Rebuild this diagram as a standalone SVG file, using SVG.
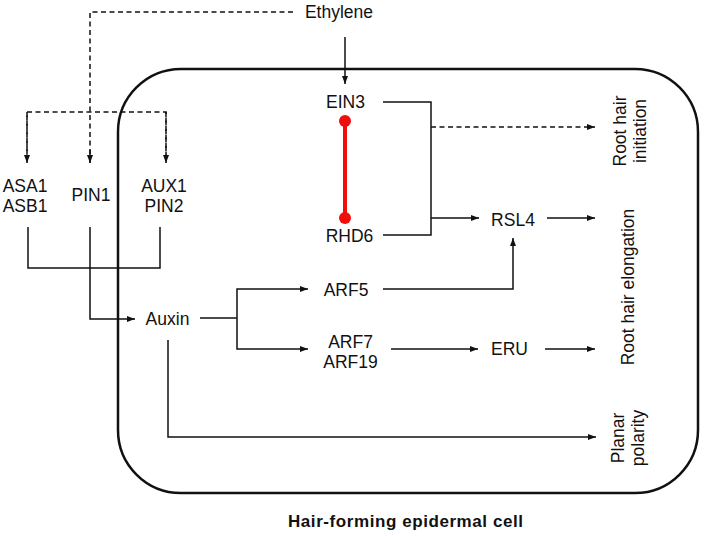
<svg xmlns="http://www.w3.org/2000/svg" width="706" height="536" viewBox="0 0 706 536">
<defs>
<marker id="ah" viewBox="0 0 8 6" refX="8" refY="3" markerWidth="8" markerHeight="6" markerUnits="userSpaceOnUse" orient="auto">
<path d="M0,0 L8,3 L0,6 Z" fill="#111"/>
</marker>
<style>
text{font-family:"Liberation Sans",Arial,sans-serif;font-size:17.5px;fill:#111;text-anchor:middle}
.c{fill:none;stroke:#111;stroke-width:1.5}
.d{stroke-dasharray:5 3.5}
.a{marker-end:url(#ah)}
.t{font-weight:bold;font-size:17px}
</style>
</defs>
<rect id="cell" x="118" y="69" width="580" height="424" rx="63" ry="63" fill="none" stroke="#111" stroke-width="2.5"/>
<g id="connectors">
<path class="c d" d="M293,12 H90 V163"/>
<path class="c d" d="M27,163 V112 H166 V163"/>
<path class="c d a" d="M27,112 V163"/>
<path class="c d a" d="M166,112 V163"/>
<path class="c d a" d="M90,150 V163"/>
<path class="c a" d="M345,37 V84"/>
<path class="c" d="M383,102 H431 V235 H383"/>
<path class="c d a" d="M431,127 H595"/>
<path class="c a" d="M431,218 H479"/>
<path class="c a" d="M547,218 H595"/>
<path class="c a" d="M383,289 H513 V238"/>
<path class="c a" d="M391,349 H478"/>
<path class="c a" d="M545,349 H595"/>
<path class="c a" d="M90,227 V319 H135"/>
<path class="c" d="M28,227 V268 H160 V227"/>
<path class="c" d="M200,318 H237"/>
<path class="c a" d="M237,318 V289 H308"/>
<path class="c a" d="M237,318 V349 H308"/>
<path class="c a" d="M168,340 V437 H596"/>
<g id="ein3-rhd6">
<line x1="345" y1="121" x2="345" y2="218" stroke="#f20d0d" stroke-width="4"/>
<circle cx="345" cy="121" r="6" fill="#f20d0d"/>
<circle cx="345" cy="218" r="6" fill="#f20d0d"/>
</g>
</g>
<g id="ethylene"><text x="339" y="18">Ethylene</text></g>
<g id="asa1"><text x="25" y="192">ASA1</text><text x="25" y="212">ASB1</text></g>
<g id="pin1"><text x="91" y="201">PIN1</text></g>
<g id="aux1"><text x="164" y="192">AUX1</text><text x="164" y="212">PIN2</text></g>
<g id="ein3"><text x="345.5" y="108">EIN3</text></g>
<g id="rhd6"><text x="349.5" y="242">RHD6</text></g>
<g id="rsl4"><text x="513" y="226">RSL4</text></g>
<g id="auxin"><text x="167.5" y="325">Auxin</text></g>
<g id="arf5"><text x="346" y="296">ARF5</text></g>
<g id="arf7"><text x="350.5" y="348">ARF7</text><text x="350.5" y="368">ARF19</text></g>
<g id="eru"><text x="509.5" y="355">ERU</text></g>
<g id="initiation"><text transform="translate(626,131) rotate(-90)">Root hair</text><text transform="translate(646,131) rotate(-90)">initiation</text></g>
<g id="elongation"><text transform="translate(634,287) rotate(-90)">Root hair elongation</text></g>
<g id="planar"><text transform="translate(624,438) rotate(-90)">Planar</text><text transform="translate(644,438) rotate(-90)">polarity</text></g>
<g id="title"><text class="t" x="405.5" y="527" textLength="235" lengthAdjust="spacing">Hair-forming epidermal cell</text></g>
</svg>
